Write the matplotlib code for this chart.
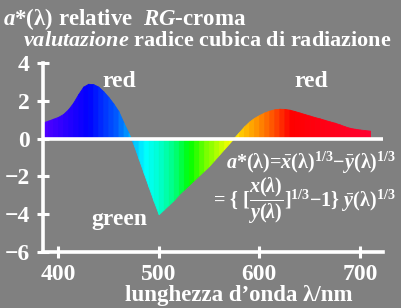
import numpy as np
import matplotlib.pyplot as plt
from matplotlib.colors import LinearSegmentedColormap

# wavelength (nm) and a*(lambda)
wavelength = [385, 390, 395, 400, 405, 410, 415, 420, 425, 430, 435, 440, 445, 450,
              455, 460, 465, 470, 475, 480, 485, 490, 495, 500, 505, 510, 515, 520,
              525, 530, 535, 540, 545, 550, 555, 560, 565, 570, 575, 580, 585, 590,
              595, 600, 605, 610, 615, 620, 625, 630, 635, 640, 645, 650, 655, 660,
              665, 670, 675, 680, 685, 690, 695, 700, 705, 710]
a_star = [0.86, 0.95, 1.05, 1.15, 1.30, 1.55, 1.90, 2.35, 2.75, 2.90, 2.88, 2.75, 2.50, 2.20,
          1.85, 1.45, 0.85, 0.30, -0.30, -1.05, -1.80, -2.55, -3.30, -4.00, -3.75, -3.50, -3.25, -2.95,
          -2.70, -2.45, -2.20, -1.95, -1.70, -1.45, -1.15, -0.85, -0.55, -0.25, 0.05, 0.35, 0.65, 0.90,
          1.10, 1.25, 1.38, 1.48, 1.55, 1.58, 1.57, 1.53, 1.46, 1.38, 1.30, 1.22, 1.14, 1.07,
          0.99, 0.91, 0.84, 0.75, 0.65, 0.57, 0.52, 0.48, 0.45, 0.42]

y_ticks = [-6, -4, -2, 0, 2, 4]
x_ticks = [400, 500, 600, 700]

# spectral colours for the strips
stops = [(385, '#5000ff'), (430, '#0000ff'), (460, '#0060ff'), (470, '#00a8ff'),
         (486, '#00ffff'), (500, '#00ffd0'), (515, '#00ff80'), (531, '#00ff00'),
         (549, '#80ff00'), (566, '#e0ff00'), (573, '#ffff00'), (580, '#ffd000'),
         (599, '#ff9000'), (615, '#ff5000'), (632, '#ff0000'), (710, '#ff0030')]
lo, hi = stops[0][0], stops[-1][0]
spec = LinearSegmentedColormap.from_list('spec', [((w - lo) / (hi - lo), c) for w, c in stops])

GRAY = '#808080'
FG = 'white'
SERIF = 'Liberation Serif'
plt.rcParams['mathtext.fontset'] = 'custom'
plt.rcParams['mathtext.rm'] = 'Liberation Serif:bold'
plt.rcParams['mathtext.it'] = 'Liberation Serif:italic:bold'
plt.rcParams['mathtext.bf'] = 'Liberation Serif:bold'

fig = plt.figure(figsize=(4.02, 3.08), dpi=100, facecolor=GRAY)
ax = fig.add_axes([43 / 402, 1 - 252 / 308, 340 / 402, 189 / 308])
ax.set_facecolor(GRAY)

for i in range(len(wavelength) - 1):
    w = wavelength[i:i + 2]
    v = a_star[i:i + 2]
    mid = (w[0] + w[1]) / 2
    ax.fill_between(w, v, 0, color=spec((mid - lo) / (hi - lo)), lw=0.6, zorder=1)

ax.axhline(0, color=FG, lw=2.6, zorder=3)
ax.set_xlim(385, 723)
ax.set_ylim(-6, 4)

for s in ['top', 'right']:
    ax.spines[s].set_visible(False)
for s in ['left', 'bottom']:
    ax.spines[s].set_color(FG)
    ax.spines[s].set_linewidth(2.6)
    ax.spines[s].set_zorder(4)

ax.set_xticks(x_ticks)
ax.set_yticks(y_ticks)
ax.set_yticklabels([str(t).replace('-', '\u2212') for t in y_ticks])
ax.tick_params(direction='inout', length=9, width=2.2, color=FG, labelcolor=FG)
ax.tick_params(axis='y', pad=5)
ax.tick_params(axis='x', pad=4)
for lab in ax.get_xticklabels() + ax.get_yticklabels():
    lab.set_fontfamily(SERIF)
    lab.set_fontweight('bold')
    lab.set_fontsize(17)

txt = dict(color=FG, family=SERIF, weight='bold', fontsize=17)
ax.text(461, 3.0, 'red', ha='center', va='center', **txt)
ax.text(652, 3.0, 'red', ha='center', va='center', **txt)
ax.text(461, -4.3, 'green', ha='center', va='center', **txt)

fig.text(396 / 402, 1 - 163 / 308,
         r'$a$*(λ)=$\bar{x}$(λ)$^{1/3}$−$\bar{y}$(λ)$^{1/3}$',
         ha='right', va='center', color=FG, family=SERIF, weight='bold', fontsize=14.5)
fig.text(396 / 402, 1 - 201 / 308,
         r'= { [$\dfrac{x(λ)}{y(λ)}$]$^{1/3}$−1} $\bar{y}$(λ)$^{1/3}$',
         ha='right', va='center', color=FG, family=SERIF, weight='bold', fontsize=14.5)

fig.text(3 / 402, 1 - 19 / 308, r'$a$*(λ) relative  $RG$-croma',
         ha='left', va='center', color=FG, family=SERIF, weight='bold', fontsize=16.5)
fig.text(23 / 402, 1 - 41 / 308, r'$valutazione$ radice cubica di radiazione',
         ha='left', va='center', color=FG, family=SERIF, weight='bold', fontsize=16)
fig.text(239 / 402, 1 - 296 / 308, 'lunghezza d\u2019onda λ/nm',
         ha='center', va='center', color=FG, family=SERIF, weight='bold', fontsize=16.5)

fig.savefig('out.png', dpi=100, facecolor=GRAY)
